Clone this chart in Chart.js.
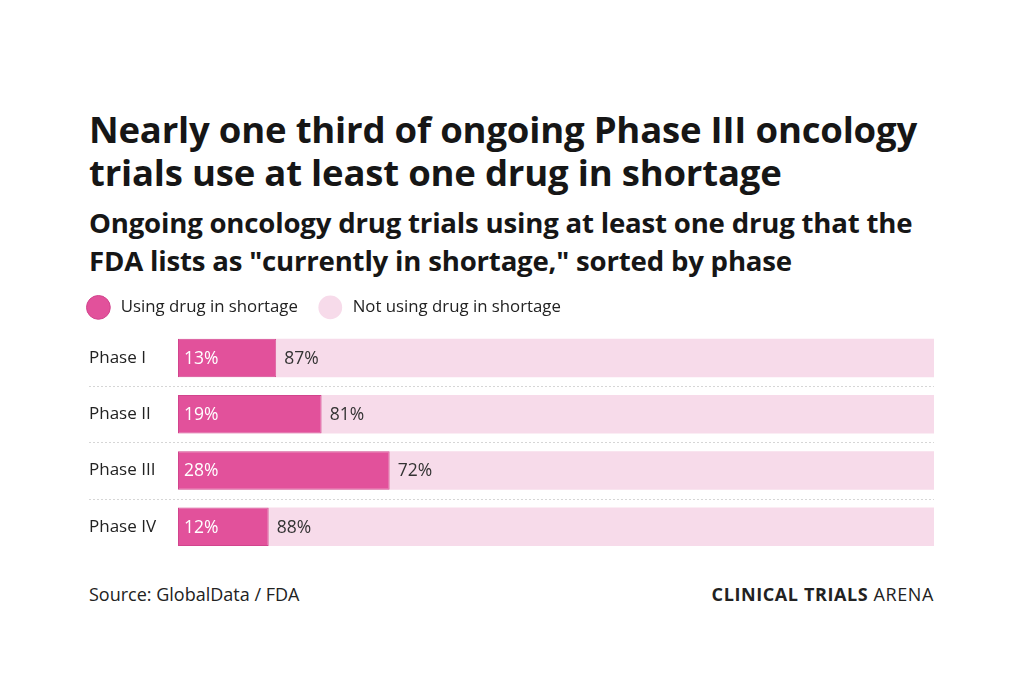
<!DOCTYPE html>
<html><head><meta charset="utf-8">
<script src="https://cdn.jsdelivr.net/npm/chart.js@4"></script>
<style>
html,body{margin:0;padding:0;background:#fff;width:1024px;height:697px;overflow:hidden;font-family:"Open Sans",sans-serif;color:#161616}
#title{position:absolute;left:89px;top:108px;font-weight:700;font-size:36.5px;line-height:43px;letter-spacing:-0.2px;white-space:nowrap}
#subtitle{position:absolute;left:89px;top:203px;font-weight:700;font-size:27.6px;line-height:38px;letter-spacing:-0.2px;white-space:nowrap}
#source{position:absolute;left:89px;top:582px;font-size:18px;color:#222}
#brand{position:absolute;right:90px;top:582px;font-size:18px;color:#222;letter-spacing:0.6px}
#wrap{position:absolute;left:0;top:275px;width:1024px;height:290px}
</style></head><body>
<div id="title">Nearly one third of ongoing Phase III oncology<br>trials use at least one drug in shortage</div>
<div id="subtitle">Ongoing oncology drug trials using at least one drug that the<br>FDA lists as "currently in shortage," sorted by phase</div>
<div id="wrap"><canvas id="c"></canvas></div>
<div id="source">Source: GlobalData / FDA</div>
<div id="brand"><b>CLINICAL TRIALS</b> ARENA</div>
<script>
const categories = ["Phase I", "Phase II", "Phase III", "Phase IV"];
const usingShortage = [13, 19, 28, 12];
const notUsingShortage = [87, 81, 72, 88];
const seriesNames = ["Using drug in shortage", "Not using drug in shortage"];

const FONT = "'Open Sans', sans-serif";

const labelPlugin = {
  id: 'barLabels',
  afterDatasetsDraw(chart) {
    const ctx = chart.ctx;
    ctx.save();
    ctx.font = "17.5px " + FONT;
    ctx.textBaseline = 'middle';
    ctx.textAlign = 'left';
    chart.data.datasets.forEach((ds, di) => {
      const meta = chart.getDatasetMeta(di);
      meta.data.forEach((bar, i) => {
        const left = Math.min(bar.x, bar.base);
        ctx.fillStyle = di === 0 ? '#ffffff' : '#333333';
        ctx.fillText(ds.data[i] + '%', left + (di === 0 ? 6 : 8), bar.y + 1);
      });
    });
    ctx.restore();
  }
};

const sepPlugin = {
  id: 'separators',
  beforeDatasetsDraw(chart) {
    const ctx = chart.ctx;
    const y = chart.scales.y;
    const area = chart.chartArea;
    ctx.save();
    ctx.strokeStyle = '#d6d6d6';
    ctx.lineWidth = 1;
    ctx.setLineDash([2, 2]);
    for (let i = 0; i < categories.length - 1; i++) {
      const yy = Math.round((y.getPixelForValue(i) + y.getPixelForValue(i + 1)) / 2) + 0.5;
      ctx.beginPath();
      ctx.moveTo(89, yy);
      ctx.lineTo(area.right, yy);
      ctx.stroke();
    }
    ctx.restore();
  }
};

const legendTweak = {
  id: 'legendTweak',
  afterInit(chart) {
    const lg = chart.legend;
    if (!lg) return;
    const f = lg.fit.bind(lg);
    lg.fit = function () { f(); this.height += 4; };
  },
  afterLayout(chart) {
    const lg = chart.legend;
    if (!lg) return;
    lg.left -= 23;
    lg.right -= 23;
  }
};

new Chart(document.getElementById('c'), {
  type: 'bar',
  data: {
    labels: categories,
    datasets: [
      { label: seriesNames[0], data: usingShortage, backgroundColor: '#e2519b', borderColor: '#d2448d', borderWidth: 1, borderSkipped: false },
      { label: seriesNames[1], data: notUsingShortage, backgroundColor: '#f7dbea', borderWidth: 0 }
    ]
  },
  options: {
    indexAxis: 'y',
    responsive: true,
    maintainAspectRatio: false,
    animation: false,
    layout: { padding: { left: 89, right: 90, top: 0, bottom: 8 } },
    datasets: { bar: { categoryPercentage: 1, barPercentage: 0.684 } },
    scales: {
      x: { stacked: true, min: 0, max: 100, display: false },
      y: {
        stacked: true,
        grid: { display: false },
        border: { display: false },
        ticks: { crossAlign: 'far', color: '#222', font: { family: FONT, size: 17 }, padding: 0 },
        afterFit(scale) { scale.width = 89; }
      }
    },
    plugins: {
      legend: {
        align: 'start',
        labels: {
          usePointStyle: true,
          pointStyle: 'circle',
          boxWidth: 18,
          boxHeight: 18,
          padding: 24,
          color: '#222',
          font: { family: FONT, size: 16.8 },
          generateLabels(chart) {
            const items = Chart.defaults.plugins.legend.labels.generateLabels(chart);
            items.forEach(it => { it.text = '\u2004' + it.text; });
            return items;
          }
        }
      },
      tooltip: { enabled: false }
    }
  },
  plugins: [labelPlugin, sepPlugin, legendTweak]
});
</script>
</body></html>
